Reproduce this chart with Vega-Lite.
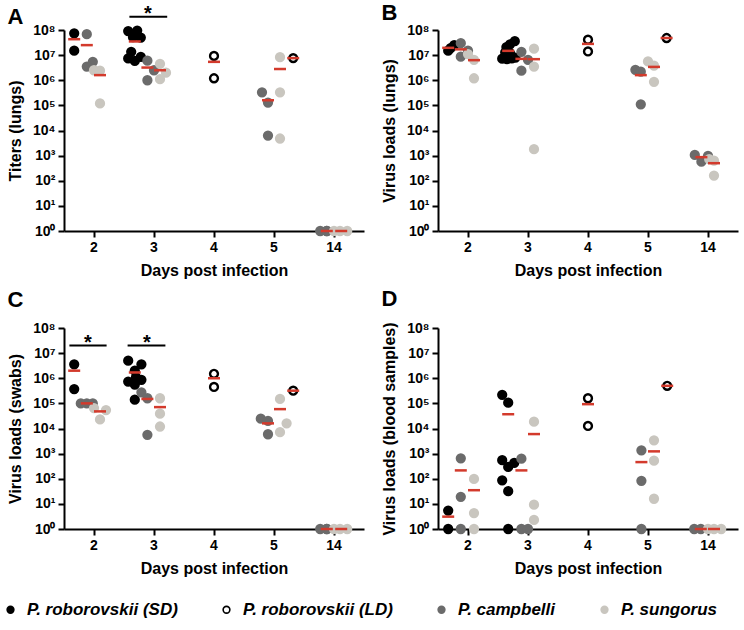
{
  "$schema": "https://vega.github.io/schema/vega-lite/v6.json",
  "background": "white",
  "padding": {"left": 2, "top": 2, "right": 2, "bottom": 2},
  "config": {
    "font": "Liberation Sans",
    "view": {"stroke": null},
    "axis": {"domainColor": "black", "domainWidth": 2, "tickColor": "black", "tickWidth": 2, "tickSize": 6, "labelFont": "Liberation Sans", "labelFontWeight": "bold", "labelFontSize": 14, "labelColor": "black", "titleFont": "Liberation Sans", "titleFontWeight": "bold", "titleFontSize": 16, "titleColor": "black", "grid": false},
    "axisX": {"labelAngle": 0, "labelPadding": 3, "titlePadding": 8},
    "axisY": {"labelPadding": 3, "titlePadding": 9},
    "title": {"anchor": "start", "fontSize": 22, "fontWeight": "bold", "font": "Liberation Sans", "color": "black", "offset": 0},
    "legend": {"direction": "horizontal", "labelFont": "Liberation Sans", "labelFontSize": 17, "labelFontWeight": "bold", "labelFontStyle": "italic", "labelColor": "black", "labelLimit": 400, "symbolSize": 45, "symbolStrokeWidth": 1.6, "columnPadding": 40, "labelOffset": 8}
  },
  "datasets": {
    "points": [
      {"panel":"A","day":2,"species":"P. roborovskii (SD)","jitter":-0.33,"value":74000000},
      {"panel":"A","day":2,"species":"P. roborovskii (SD)","jitter":-0.33,"value":15000000},
      {"panel":"A","day":2,"species":"P. campbelli","jitter":-0.12,"value":68000000},
      {"panel":"A","day":2,"species":"P. campbelli","jitter":-0.02,"value":5400000},
      {"panel":"A","day":2,"species":"P. campbelli","jitter":-0.12,"value":3500000},
      {"panel":"A","day":2,"species":"P. sungorus","jitter":0.0,"value":2500000},
      {"panel":"A","day":2,"species":"P. sungorus","jitter":0.1,"value":2400000},
      {"panel":"A","day":2,"species":"P. sungorus","jitter":0.1,"value":120000},
      {"panel":"A","day":3,"species":"P. roborovskii (SD)","jitter":-0.43,"value":91000000},
      {"panel":"A","day":3,"species":"P. roborovskii (SD)","jitter":-0.28,"value":95000000},
      {"panel":"A","day":3,"species":"P. roborovskii (SD)","jitter":-0.35,"value":52000000},
      {"panel":"A","day":3,"species":"P. roborovskii (SD)","jitter":-0.22,"value":50000000},
      {"panel":"A","day":3,"species":"P. roborovskii (SD)","jitter":-0.38,"value":13500000},
      {"panel":"A","day":3,"species":"P. roborovskii (SD)","jitter":-0.22,"value":8500000},
      {"panel":"A","day":3,"species":"P. roborovskii (SD)","jitter":-0.43,"value":7400000},
      {"panel":"A","day":3,"species":"P. roborovskii (SD)","jitter":-0.32,"value":5900000},
      {"panel":"A","day":3,"species":"P. campbelli","jitter":-0.11,"value":6000000},
      {"panel":"A","day":3,"species":"P. campbelli","jitter":0.0,"value":2500000},
      {"panel":"A","day":3,"species":"P. campbelli","jitter":-0.11,"value":1000000},
      {"panel":"A","day":3,"species":"P. sungorus","jitter":0.1,"value":4500000},
      {"panel":"A","day":3,"species":"P. sungorus","jitter":0.2,"value":2000000},
      {"panel":"A","day":3,"species":"P. sungorus","jitter":0.1,"value":1100000},
      {"panel":"A","day":4,"species":"P. roborovskii (LD)","jitter":0.0,"value":9300000},
      {"panel":"A","day":4,"species":"P. roborovskii (LD)","jitter":0.0,"value":1200000},
      {"panel":"A","day":5,"species":"P. campbelli","jitter":-0.2,"value":330000},
      {"panel":"A","day":5,"species":"P. campbelli","jitter":-0.1,"value":130000},
      {"panel":"A","day":5,"species":"P. campbelli","jitter":-0.1,"value":6300},
      {"panel":"A","day":5,"species":"P. sungorus","jitter":0.1,"value":8300000},
      {"panel":"A","day":5,"species":"P. sungorus","jitter":0.1,"value":330000},
      {"panel":"A","day":5,"species":"P. sungorus","jitter":0.1,"value":4800},
      {"panel":"A","day":5,"species":"P. roborovskii (LD)","jitter":0.32,"value":7600000},
      {"panel":"A","day":14,"species":"P. campbelli","jitter":-0.23,"value":1},
      {"panel":"A","day":14,"species":"P. campbelli","jitter":-0.12,"value":1},
      {"panel":"A","day":14,"species":"P. campbelli","jitter":-0.12,"value":1},
      {"panel":"A","day":14,"species":"P. sungorus","jitter":0.0,"value":1},
      {"panel":"A","day":14,"species":"P. sungorus","jitter":0.1,"value":1},
      {"panel":"A","day":14,"species":"P. sungorus","jitter":0.22,"value":1},

      {"panel":"B","day":2,"species":"P. roborovskii (SD)","jitter":-0.33,"value":15000000},
      {"panel":"B","day":2,"species":"P. roborovskii (SD)","jitter":-0.29,"value":19000000},
      {"panel":"B","day":2,"species":"P. roborovskii (SD)","jitter":-0.23,"value":25000000},
      {"panel":"B","day":2,"species":"P. campbelli","jitter":-0.12,"value":30000000},
      {"panel":"B","day":2,"species":"P. campbelli","jitter":0.0,"value":15000000},
      {"panel":"B","day":2,"species":"P. campbelli","jitter":-0.12,"value":8700000},
      {"panel":"B","day":2,"species":"P. sungorus","jitter":0.0,"value":11000000},
      {"panel":"B","day":2,"species":"P. sungorus","jitter":0.1,"value":6500000},
      {"panel":"B","day":2,"species":"P. sungorus","jitter":0.1,"value":1200000},
      {"panel":"B","day":3,"species":"P. roborovskii (SD)","jitter":-0.22,"value":36000000},
      {"panel":"B","day":3,"species":"P. roborovskii (SD)","jitter":-0.3,"value":27000000},
      {"panel":"B","day":3,"species":"P. roborovskii (SD)","jitter":-0.36,"value":21000000},
      {"panel":"B","day":3,"species":"P. roborovskii (SD)","jitter":-0.38,"value":13000000},
      {"panel":"B","day":3,"species":"P. roborovskii (SD)","jitter":-0.3,"value":12000000},
      {"panel":"B","day":3,"species":"P. roborovskii (SD)","jitter":-0.43,"value":7200000},
      {"panel":"B","day":3,"species":"P. roborovskii (SD)","jitter":-0.35,"value":7000000},
      {"panel":"B","day":3,"species":"P. roborovskii (SD)","jitter":-0.27,"value":7400000},
      {"panel":"B","day":3,"species":"P. roborovskii (SD)","jitter":-0.21,"value":8000000},
      {"panel":"B","day":3,"species":"P. campbelli","jitter":-0.11,"value":13500000},
      {"panel":"B","day":3,"species":"P. campbelli","jitter":0.0,"value":6500000},
      {"panel":"B","day":3,"species":"P. campbelli","jitter":-0.11,"value":2400000},
      {"panel":"B","day":3,"species":"P. sungorus","jitter":0.1,"value":18000000},
      {"panel":"B","day":3,"species":"P. sungorus","jitter":0.1,"value":3500000},
      {"panel":"B","day":3,"species":"P. sungorus","jitter":0.1,"value":1800},
      {"panel":"B","day":4,"species":"P. roborovskii (LD)","jitter":0.0,"value":41000000},
      {"panel":"B","day":4,"species":"P. roborovskii (LD)","jitter":0.0,"value":14000000},
      {"panel":"B","day":5,"species":"P. campbelli","jitter":-0.21,"value":2600000},
      {"panel":"B","day":5,"species":"P. campbelli","jitter":-0.12,"value":2200000},
      {"panel":"B","day":5,"species":"P. campbelli","jitter":-0.12,"value":110000},
      {"panel":"B","day":5,"species":"P. sungorus","jitter":0.0,"value":5600000},
      {"panel":"B","day":5,"species":"P. sungorus","jitter":0.1,"value":3800000},
      {"panel":"B","day":5,"species":"P. sungorus","jitter":0.1,"value":870000},
      {"panel":"B","day":5,"species":"P. roborovskii (LD)","jitter":0.31,"value":48000000},
      {"panel":"B","day":14,"species":"P. campbelli","jitter":-0.22,"value":1070},
      {"panel":"B","day":14,"species":"P. campbelli","jitter":-0.11,"value":575},
      {"panel":"B","day":14,"species":"P. campbelli","jitter":0.0,"value":980},
      {"panel":"B","day":14,"species":"P. sungorus","jitter":0.02,"value":720},
      {"panel":"B","day":14,"species":"P. sungorus","jitter":0.1,"value":630},
      {"panel":"B","day":14,"species":"P. sungorus","jitter":0.1,"value":160},

      {"panel":"C","day":2,"species":"P. roborovskii (SD)","jitter":-0.33,"value":3600000},
      {"panel":"C","day":2,"species":"P. roborovskii (SD)","jitter":-0.33,"value":370000},
      {"panel":"C","day":2,"species":"P. campbelli","jitter":-0.22,"value":100000},
      {"panel":"C","day":2,"species":"P. campbelli","jitter":-0.12,"value":100000},
      {"panel":"C","day":2,"species":"P. campbelli","jitter":-0.02,"value":100000},
      {"panel":"C","day":2,"species":"P. sungorus","jitter":0.0,"value":65000},
      {"panel":"C","day":2,"species":"P. sungorus","jitter":0.2,"value":54000},
      {"panel":"C","day":2,"species":"P. sungorus","jitter":0.1,"value":23000},
      {"panel":"C","day":3,"species":"P. roborovskii (SD)","jitter":-0.43,"value":5000000},
      {"panel":"C","day":3,"species":"P. roborovskii (SD)","jitter":-0.21,"value":3600000},
      {"panel":"C","day":3,"species":"P. roborovskii (SD)","jitter":-0.32,"value":2000000},
      {"panel":"C","day":3,"species":"P. roborovskii (SD)","jitter":-0.3,"value":1100000},
      {"panel":"C","day":3,"species":"P. roborovskii (SD)","jitter":-0.43,"value":740000},
      {"panel":"C","day":3,"species":"P. roborovskii (SD)","jitter":-0.21,"value":870000},
      {"panel":"C","day":3,"species":"P. roborovskii (SD)","jitter":-0.32,"value":560000},
      {"panel":"C","day":3,"species":"P. roborovskii (SD)","jitter":-0.32,"value":140000},
      {"panel":"C","day":3,"species":"P. campbelli","jitter":-0.21,"value":275000},
      {"panel":"C","day":3,"species":"P. campbelli","jitter":-0.11,"value":160000},
      {"panel":"C","day":3,"species":"P. campbelli","jitter":-0.11,"value":5600},
      {"panel":"C","day":3,"species":"P. sungorus","jitter":0.1,"value":160000},
      {"panel":"C","day":3,"species":"P. sungorus","jitter":0.1,"value":39000},
      {"panel":"C","day":3,"species":"P. sungorus","jitter":0.1,"value":12000},
      {"panel":"C","day":4,"species":"P. roborovskii (LD)","jitter":0.0,"value":1500000},
      {"panel":"C","day":4,"species":"P. roborovskii (LD)","jitter":0.0,"value":450000},
      {"panel":"C","day":5,"species":"P. campbelli","jitter":-0.22,"value":24500},
      {"panel":"C","day":5,"species":"P. campbelli","jitter":-0.1,"value":20000},
      {"panel":"C","day":5,"species":"P. campbelli","jitter":-0.1,"value":5900},
      {"panel":"C","day":5,"species":"P. sungorus","jitter":0.1,"value":150000},
      {"panel":"C","day":5,"species":"P. sungorus","jitter":0.21,"value":16000},
      {"panel":"C","day":5,"species":"P. sungorus","jitter":0.1,"value":7100},
      {"panel":"C","day":5,"species":"P. roborovskii (LD)","jitter":0.32,"value":320000},
      {"panel":"C","day":14,"species":"P. campbelli","jitter":-0.23,"value":1},
      {"panel":"C","day":14,"species":"P. campbelli","jitter":-0.12,"value":1},
      {"panel":"C","day":14,"species":"P. campbelli","jitter":-0.12,"value":1},
      {"panel":"C","day":14,"species":"P. sungorus","jitter":0.0,"value":1},
      {"panel":"C","day":14,"species":"P. sungorus","jitter":0.1,"value":1},
      {"panel":"C","day":14,"species":"P. sungorus","jitter":0.22,"value":1},

      {"panel":"D","day":2,"species":"P. roborovskii (SD)","jitter":-0.33,"value":5.4},
      {"panel":"D","day":2,"species":"P. roborovskii (SD)","jitter":-0.33,"value":1},
      {"panel":"D","day":2,"species":"P. campbelli","jitter":-0.12,"value":650},
      {"panel":"D","day":2,"species":"P. campbelli","jitter":-0.12,"value":19},
      {"panel":"D","day":2,"species":"P. campbelli","jitter":-0.12,"value":1},
      {"panel":"D","day":2,"species":"P. sungorus","jitter":0.1,"value":98},
      {"panel":"D","day":2,"species":"P. sungorus","jitter":0.1,"value":4.3},
      {"panel":"D","day":2,"species":"P. sungorus","jitter":0.1,"value":1},
      {"panel":"D","day":3,"species":"P. roborovskii (SD)","jitter":-0.43,"value":220000},
      {"panel":"D","day":3,"species":"P. roborovskii (SD)","jitter":-0.33,"value":107000},
      {"panel":"D","day":3,"species":"P. roborovskii (SD)","jitter":-0.43,"value":550},
      {"panel":"D","day":3,"species":"P. roborovskii (SD)","jitter":-0.33,"value":295},
      {"panel":"D","day":3,"species":"P. roborovskii (SD)","jitter":-0.23,"value":427},
      {"panel":"D","day":3,"species":"P. roborovskii (SD)","jitter":-0.43,"value":87},
      {"panel":"D","day":3,"species":"P. roborovskii (SD)","jitter":-0.33,"value":32},
      {"panel":"D","day":3,"species":"P. roborovskii (SD)","jitter":-0.33,"value":1},
      {"panel":"D","day":3,"species":"P. campbelli","jitter":-0.11,"value":630},
      {"panel":"D","day":3,"species":"P. campbelli","jitter":-0.11,"value":1},
      {"panel":"D","day":3,"species":"P. campbelli","jitter":0.0,"value":1},
      {"panel":"D","day":3,"species":"P. sungorus","jitter":0.1,"value":18600},
      {"panel":"D","day":3,"species":"P. sungorus","jitter":0.1,"value":9.3},
      {"panel":"D","day":3,"species":"P. sungorus","jitter":0.1,"value":2.3},
      {"panel":"D","day":4,"species":"P. roborovskii (LD)","jitter":0.0,"value":160000},
      {"panel":"D","day":4,"species":"P. roborovskii (LD)","jitter":0.0,"value":12600},
      {"panel":"D","day":5,"species":"P. campbelli","jitter":-0.11,"value":1350},
      {"panel":"D","day":5,"species":"P. campbelli","jitter":-0.11,"value":83},
      {"panel":"D","day":5,"species":"P. campbelli","jitter":-0.11,"value":1},
      {"panel":"D","day":5,"species":"P. sungorus","jitter":0.1,"value":3400},
      {"panel":"D","day":5,"species":"P. sungorus","jitter":0.1,"value":525},
      {"panel":"D","day":5,"species":"P. sungorus","jitter":0.1,"value":16},
      {"panel":"D","day":5,"species":"P. roborovskii (LD)","jitter":0.32,"value":500000},
      {"panel":"D","day":14,"species":"P. campbelli","jitter":-0.23,"value":1},
      {"panel":"D","day":14,"species":"P. campbelli","jitter":-0.12,"value":1},
      {"panel":"D","day":14,"species":"P. sungorus","jitter":0.0,"value":1},
      {"panel":"D","day":14,"species":"P. sungorus","jitter":0.1,"value":1},
      {"panel":"D","day":14,"species":"P. sungorus","jitter":0.22,"value":1}
    ],
    "means": [
      {"panel":"A","day":2,"species":"P. roborovskii (SD)","jitter":-0.33,"value":43000000},
      {"panel":"A","day":2,"species":"P. campbelli","jitter":-0.12,"value":25000000},
      {"panel":"A","day":2,"species":"P. sungorus","jitter":0.1,"value":1600000},
      {"panel":"A","day":3,"species":"P. roborovskii (SD)","jitter":-0.32,"value":35000000},
      {"panel":"A","day":3,"species":"P. campbelli","jitter":-0.11,"value":3200000},
      {"panel":"A","day":3,"species":"P. sungorus","jitter":0.1,"value":2500000},
      {"panel":"A","day":4,"species":"P. roborovskii (LD)","jitter":0.0,"value":5400000},
      {"panel":"A","day":5,"species":"P. campbelli","jitter":-0.1,"value":160000},
      {"panel":"A","day":5,"species":"P. sungorus","jitter":0.1,"value":2800000},
      {"panel":"A","day":5,"species":"P. roborovskii (LD)","jitter":0.32,"value":7600000},
      {"panel":"A","day":14,"species":"P. campbelli","jitter":-0.12,"value":1},
      {"panel":"A","day":14,"species":"P. sungorus","jitter":0.12,"value":1},
      {"panel":"B","day":2,"species":"P. roborovskii (SD)","jitter":-0.33,"value":19500000},
      {"panel":"B","day":2,"species":"P. campbelli","jitter":-0.12,"value":17000000},
      {"panel":"B","day":2,"species":"P. sungorus","jitter":0.1,"value":6300000},
      {"panel":"B","day":3,"species":"P. roborovskii (SD)","jitter":-0.33,"value":14800000},
      {"panel":"B","day":3,"species":"P. campbelli","jitter":-0.11,"value":7100000},
      {"panel":"B","day":3,"species":"P. sungorus","jitter":0.1,"value":6900000},
      {"panel":"B","day":4,"species":"P. roborovskii (LD)","jitter":0.0,"value":28000000},
      {"panel":"B","day":5,"species":"P. campbelli","jitter":-0.12,"value":1600000},
      {"panel":"B","day":5,"species":"P. sungorus","jitter":0.1,"value":3400000},
      {"panel":"B","day":5,"species":"P. roborovskii (LD)","jitter":0.31,"value":48000000},
      {"panel":"B","day":14,"species":"P. campbelli","jitter":-0.11,"value":870},
      {"panel":"B","day":14,"species":"P. sungorus","jitter":0.1,"value":500},
      {"panel":"C","day":2,"species":"P. roborovskii (SD)","jitter":-0.33,"value":2000000},
      {"panel":"C","day":2,"species":"P. campbelli","jitter":-0.12,"value":100000},
      {"panel":"C","day":2,"species":"P. sungorus","jitter":0.1,"value":48000},
      {"panel":"C","day":3,"species":"P. roborovskii (SD)","jitter":-0.32,"value":1700000},
      {"panel":"C","day":3,"species":"P. campbelli","jitter":-0.11,"value":150000},
      {"panel":"C","day":3,"species":"P. sungorus","jitter":0.1,"value":71000},
      {"panel":"C","day":4,"species":"P. roborovskii (LD)","jitter":0.0,"value":1000000},
      {"panel":"C","day":5,"species":"P. campbelli","jitter":-0.1,"value":16000},
      {"panel":"C","day":5,"species":"P. sungorus","jitter":0.1,"value":59000},
      {"panel":"C","day":5,"species":"P. roborovskii (LD)","jitter":0.32,"value":320000},
      {"panel":"C","day":14,"species":"P. campbelli","jitter":-0.12,"value":1},
      {"panel":"C","day":14,"species":"P. sungorus","jitter":0.12,"value":1},
      {"panel":"D","day":2,"species":"P. roborovskii (SD)","jitter":-0.33,"value":3.1},
      {"panel":"D","day":2,"species":"P. campbelli","jitter":-0.12,"value":215},
      {"panel":"D","day":2,"species":"P. sungorus","jitter":0.1,"value":35},
      {"panel":"D","day":3,"species":"P. roborovskii (SD)","jitter":-0.33,"value":37000},
      {"panel":"D","day":3,"species":"P. campbelli","jitter":-0.11,"value":215},
      {"panel":"D","day":3,"species":"P. sungorus","jitter":0.1,"value":6000},
      {"panel":"D","day":4,"species":"P. roborovskii (LD)","jitter":0.0,"value":93000},
      {"panel":"D","day":5,"species":"P. campbelli","jitter":-0.11,"value":460},
      {"panel":"D","day":5,"species":"P. sungorus","jitter":0.1,"value":1230},
      {"panel":"D","day":5,"species":"P. roborovskii (LD)","jitter":0.32,"value":500000},
      {"panel":"D","day":14,"species":"P. campbelli","jitter":-0.12,"value":1},
      {"panel":"D","day":14,"species":"P. sungorus","jitter":0.1,"value":1}
    ],
    "sigbars": [
      {"panel":"A","day":3,"grp":"A3","jitter":-0.41,"value":340000000},
      {"panel":"A","day":3,"grp":"A3","jitter":0.22,"value":340000000},
      {"panel":"C","day":2,"grp":"C2","jitter":-0.41,"value":20000000},
      {"panel":"C","day":2,"grp":"C2","jitter":0.21,"value":20000000},
      {"panel":"C","day":3,"grp":"C3","jitter":-0.44,"value":20000000},
      {"panel":"C","day":3,"grp":"C3","jitter":0.19,"value":20000000}
    ],
    "stars": [
      {"panel":"A","day":3,"jitter":-0.1,"value":340000000,"label":"*"},
      {"panel":"C","day":2,"jitter":-0.1,"value":20000000,"label":"*"},
      {"panel":"C","day":3,"jitter":-0.12,"value":20000000,"label":"*"}
    ]
  },
  "vconcat": [
    {
      "hconcat": [
        {
          "width": 300, "height": 201, "title": {"text": "A", "offset": -25},
          "encoding": {
            "x": {"field": "day", "type": "ordinal", "scale": {"paddingInner": 0, "paddingOuter": 0}, "axis": {"title": "Days post infection"}},
            "xOffset": {"field": "jitter", "type": "quantitative", "scale": {"domain": [-0.5, 0.5], "nice": false, "zero": false}},
            "y": {"field": "value", "type": "quantitative", "scale": {"type": "log", "domain": [1, 100000000], "nice": false}, "axis": {"title": "Titers (lungs)", "values": [1,10,100,1000,10000,100000,1000000,10000000,100000000], "labelExpr": "'10' + substring('⁰¹²³⁴⁵⁶⁷⁸', round(log(datum.value)/LN10), round(log(datum.value)/LN10) + 1)"}}
          },
          "layer": [
            {"data": {"name": "points"}, "transform": [{"filter": "datum.panel === 'A'"}],
             "mark": {"type": "point", "shape": "circle", "size": 62, "strokeWidth": 2.4, "opacity": 1},
             "encoding": {
               "fill": {"field": "species", "type": "nominal", "scale": {"domain": ["P. roborovskii (SD)", "P. roborovskii (LD)", "P. campbelli", "P. sungorus"], "range": ["#000000", "#ffffff", "#6b6b6b", "#c9c6bf"]}, "legend": {"title": null, "orient": "none", "legendX": -62, "legendY": 571}},
               "stroke": {"field": "species", "type": "nominal", "scale": {"domain": ["P. roborovskii (SD)", "P. roborovskii (LD)", "P. campbelli", "P. sungorus"], "range": ["#000000", "#000000", "#6b6b6b", "#c9c6bf"]}, "legend": {"title": null, "orient": "none", "legendX": -62, "legendY": 571}}
             }},
            {"data": {"name": "means"}, "transform": [{"filter": "datum.panel === 'A'"}],
             "mark": {"type": "tick", "color": "#d33a2c", "thickness": 2.5, "size": 12, "opacity": 1}},
            {"data": {"name": "sigbars"}, "transform": [{"filter": "datum.panel === 'A'"}],
             "mark": {"type": "line", "color": "black", "strokeWidth": 2},
             "encoding": {"detail": {"field": "grp", "type": "nominal"}}},
            {"data": {"name": "stars"}, "transform": [{"filter": "datum.panel === 'A'"}],
             "mark": {"type": "text", "fontSize": 20, "fontWeight": "bold", "color": "black", "baseline": "alphabetic", "dy": 3},
             "encoding": {"text": {"field": "label"}}}
          ]
        },
        {
          "width": 300, "height": 201, "title": {"text": "B", "offset": -2},
          "encoding": {
            "x": {"field": "day", "type": "ordinal", "scale": {"paddingInner": 0, "paddingOuter": 0}, "axis": {"title": "Days post infection"}},
            "xOffset": {"field": "jitter", "type": "quantitative", "scale": {"domain": [-0.5, 0.5], "nice": false, "zero": false}},
            "y": {"field": "value", "type": "quantitative", "scale": {"type": "log", "domain": [1, 100000000], "nice": false}, "axis": {"title": "Virus loads (lungs)", "values": [1,10,100,1000,10000,100000,1000000,10000000,100000000], "labelExpr": "'10' + substring('⁰¹²³⁴⁵⁶⁷⁸', round(log(datum.value)/LN10), round(log(datum.value)/LN10) + 1)"}}
          },
          "layer": [
            {"data": {"name": "points"}, "transform": [{"filter": "datum.panel === 'B'"}],
             "mark": {"type": "point", "shape": "circle", "size": 62, "strokeWidth": 2.4, "opacity": 1},
             "encoding": {
               "fill": {"field": "species", "type": "nominal", "scale": {"domain": ["P. roborovskii (SD)", "P. roborovskii (LD)", "P. campbelli", "P. sungorus"], "range": ["#000000", "#ffffff", "#6b6b6b", "#c9c6bf"]}, "legend": {"title": null, "orient": "none", "legendX": -62, "legendY": 571}},
               "stroke": {"field": "species", "type": "nominal", "scale": {"domain": ["P. roborovskii (SD)", "P. roborovskii (LD)", "P. campbelli", "P. sungorus"], "range": ["#000000", "#000000", "#6b6b6b", "#c9c6bf"]}, "legend": {"title": null, "orient": "none", "legendX": -62, "legendY": 571}}
             }},
            {"data": {"name": "means"}, "transform": [{"filter": "datum.panel === 'B'"}],
             "mark": {"type": "tick", "color": "#d33a2c", "thickness": 2.5, "size": 12, "opacity": 1}}
          ]
        }
      ],
      "spacing": 17
    },
    {
      "hconcat": [
        {
          "width": 300, "height": 201, "title": {"text": "C", "offset": 9},
          "encoding": {
            "x": {"field": "day", "type": "ordinal", "scale": {"paddingInner": 0, "paddingOuter": 0}, "axis": {"title": "Days post infection"}},
            "xOffset": {"field": "jitter", "type": "quantitative", "scale": {"domain": [-0.5, 0.5], "nice": false, "zero": false}},
            "y": {"field": "value", "type": "quantitative", "scale": {"type": "log", "domain": [1, 100000000], "nice": false}, "axis": {"title": "Virus loads (swabs)", "values": [1,10,100,1000,10000,100000,1000000,10000000,100000000], "labelExpr": "'10' + substring('⁰¹²³⁴⁵⁶⁷⁸', round(log(datum.value)/LN10), round(log(datum.value)/LN10) + 1)"}}
          },
          "layer": [
            {"data": {"name": "points"}, "transform": [{"filter": "datum.panel === 'C'"}],
             "mark": {"type": "point", "shape": "circle", "size": 62, "strokeWidth": 2.4, "opacity": 1},
             "encoding": {
               "fill": {"field": "species", "type": "nominal", "scale": {"domain": ["P. roborovskii (SD)", "P. roborovskii (LD)", "P. campbelli", "P. sungorus"], "range": ["#000000", "#ffffff", "#6b6b6b", "#c9c6bf"]}, "legend": {"title": null, "orient": "none", "legendX": -62, "legendY": 571}},
               "stroke": {"field": "species", "type": "nominal", "scale": {"domain": ["P. roborovskii (SD)", "P. roborovskii (LD)", "P. campbelli", "P. sungorus"], "range": ["#000000", "#000000", "#6b6b6b", "#c9c6bf"]}, "legend": {"title": null, "orient": "none", "legendX": -62, "legendY": 571}}
             }},
            {"data": {"name": "means"}, "transform": [{"filter": "datum.panel === 'C'"}],
             "mark": {"type": "tick", "color": "#d33a2c", "thickness": 2.5, "size": 12, "opacity": 1}},
            {"data": {"name": "sigbars"}, "transform": [{"filter": "datum.panel === 'C'"}],
             "mark": {"type": "line", "color": "black", "strokeWidth": 2},
             "encoding": {"detail": {"field": "grp", "type": "nominal"}}},
            {"data": {"name": "stars"}, "transform": [{"filter": "datum.panel === 'C'"}],
             "mark": {"type": "text", "fontSize": 20, "fontWeight": "bold", "color": "black", "baseline": "alphabetic", "dy": 3},
             "encoding": {"text": {"field": "label"}}}
          ]
        },
        {
          "width": 300, "height": 201, "title": {"text": "D", "offset": 10},
          "encoding": {
            "x": {"field": "day", "type": "ordinal", "scale": {"paddingInner": 0, "paddingOuter": 0}, "axis": {"title": "Days post infection"}},
            "xOffset": {"field": "jitter", "type": "quantitative", "scale": {"domain": [-0.5, 0.5], "nice": false, "zero": false}},
            "y": {"field": "value", "type": "quantitative", "scale": {"type": "log", "domain": [1, 100000000], "nice": false}, "axis": {"title": "Virus loads (blood samples)", "values": [1,10,100,1000,10000,100000,1000000,10000000,100000000], "labelExpr": "'10' + substring('⁰¹²³⁴⁵⁶⁷⁸', round(log(datum.value)/LN10), round(log(datum.value)/LN10) + 1)"}}
          },
          "layer": [
            {"data": {"name": "points"}, "transform": [{"filter": "datum.panel === 'D'"}],
             "mark": {"type": "point", "shape": "circle", "size": 62, "strokeWidth": 2.4, "opacity": 1},
             "encoding": {
               "fill": {"field": "species", "type": "nominal", "scale": {"domain": ["P. roborovskii (SD)", "P. roborovskii (LD)", "P. campbelli", "P. sungorus"], "range": ["#000000", "#ffffff", "#6b6b6b", "#c9c6bf"]}, "legend": {"title": null, "orient": "none", "legendX": -62, "legendY": 571}},
               "stroke": {"field": "species", "type": "nominal", "scale": {"domain": ["P. roborovskii (SD)", "P. roborovskii (LD)", "P. campbelli", "P. sungorus"], "range": ["#000000", "#000000", "#6b6b6b", "#c9c6bf"]}, "legend": {"title": null, "orient": "none", "legendX": -62, "legendY": 571}}
             }},
            {"data": {"name": "means"}, "transform": [{"filter": "datum.panel === 'D'"}],
             "mark": {"type": "tick", "color": "#d33a2c", "thickness": 2.5, "size": 12, "opacity": 1}}
          ]
        }
      ],
      "spacing": 17
    }
  ],
  "spacing": 10
}
